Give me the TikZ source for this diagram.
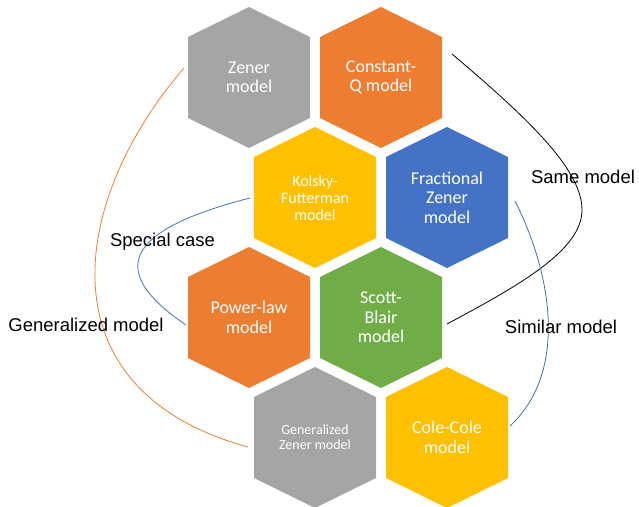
\documentclass[tikz,border=0pt]{standalone}
\usepackage{fontspec}
\setmainfont{Carlito}
\newfontfamily\arialfont{Liberation Sans}
\usetikzlibrary{calc}
\definecolor{hgray}{HTML}{A5A5A5}
\definecolor{horange}{HTML}{ED7D31}
\definecolor{hyellow}{HTML}{FFC000}
\definecolor{hblue}{HTML}{4472C4}
\definecolor{hgreen}{HTML}{70AD47}
\definecolor{lblue}{HTML}{4472C4}
\definecolor{lblue2}{HTML}{41719C}
\definecolor{lorange}{HTML}{ED7D31}
\tikzset{
  hextext/.style={text=white, align=center, inner sep=0pt, font=\fontsize{18}{19.5}\selectfont},
  smalltext/.style={hextext, font=\fontsize{16}{17}\selectfont},
  tinytext/.style={hextext, font=\fontsize{14}{15}\selectfont},
  lbl/.style={anchor=base, inner sep=0pt, font=\arialfont\fontsize{18.5}{22}\selectfont},
  conn/.style={line width=0.8pt},
}
\newcommand{\myhex}[2]{%
  \fill[#2] ($(#1)+(0,-70.5)$) -- ($(#1)+(61,-40.5)$) -- ($(#1)+(61,40.5)$) --
    ($(#1)+(0,70.5)$) -- ($(#1)+(-61,40.5)$) -- ($(#1)+(-61,-40.5)$) -- cycle;}
\begin{document}
\begin{tikzpicture}[x=1pt,y=-1pt]
\path[use as bounding box] (0,0) rectangle (639,506);
\clip (0,0) rectangle (639,506);
% centres
\coordinate (c11) at (249,77.5);
\coordinate (c12) at (381,77.5);
\coordinate (c21) at (315,197.5);
\coordinate (c22) at (447,197.5);
\coordinate (c31) at (249,317.5);
\coordinate (c32) at (381,317.5);
\coordinate (c41) at (315,437.5);
\coordinate (c42) at (447,437.5);
% hexagons
\myhex{c11}{hgray}
\myhex{c12}{horange}
\myhex{c21}{hyellow}
\myhex{c22}{hblue}
\myhex{c31}{horange}
\myhex{c32}{hgreen}
\myhex{c41}{hgray}
\myhex{c42}{hyellow}
% texts
\node[hextext] (zener) at (c11) {Zener\\model};
\node[hextext] (constq) at (c12) {Constant-\\Q model};
\node[smalltext] (kolsky) at (c21) {Kolsky-\\Futterman\\model};
\node[hextext] (fraczener) at (c22) {Fractional\\Zener\\model};
\node[hextext] (powerlaw) at (c31) {Power-law\\model};
\node[hextext] (scottblair) at (c32) {Scott-\\Blair\\model};
\node[tinytext] (genzener) at (c41) {Generalized\\Zener model};
\node[hextext] (colecole) at (c42) {Cole-Cole\\model};
% connector end points
\coordinate (zL) at ($(c11)+(-65,-9.5)$);
\coordinate (gzL) at ($(c41)+(-67,9.5)$);
\coordinate (kL) at ($(c21)+(-65,0.5)$);
\coordinate (pL) at ($(c31)+(-63,7.5)$);
\coordinate (cqR) at ($(c12)+(71,-23.5)$);
\coordinate (sbR) at ($(c32)+(66,6.5)$);
\coordinate (fzR) at ($(c22)+(68,3.5)$);
\coordinate (ccR) at ($(c42)+(63,-11.5)$);
\coordinate (samemid) at (582,210);
% connectors
\draw[conn, lorange] (zL) .. controls (70,200) and (40,390) .. (gzL);
\draw[conn, lblue] (kL) .. controls (105,235) and (120,280) .. (pL);
\draw[conn, black] (cqR) .. controls (530,120) and (582,170) .. (samemid)
  .. controls (582,250) and (520,285) .. (sbR);
\draw[conn, lblue2] (fzR) .. controls (550,270) and (570,370) .. (ccR);
% labels
\node[lbl] (lspecial) at (162.5,246) {Special case};
\node[lbl] (lgen) at (86,331) {Generalized model};
\node[lbl] (lsame) at (583,183) {Same model};
\node[lbl] (lsimilar) at (561,333) {Similar model};
\end{tikzpicture}
\end{document}
